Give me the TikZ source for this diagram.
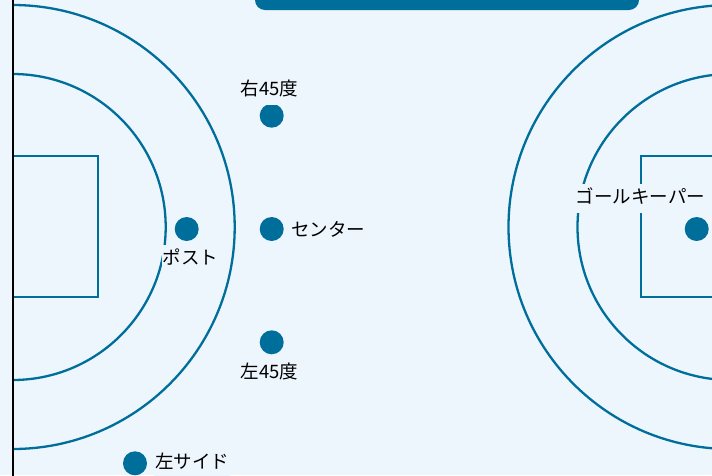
\documentclass[tikz,border=0pt]{standalone}
\usepackage{fontspec}
\newfontfamily\jp{Noto Sans CJK JP}
\definecolor{bgc}{RGB}{238,246,253}
\definecolor{court}{RGB}{0,110,155}
\tikzset{
  courtline/.style={draw=court, line width=2.3pt},
  boxline/.style={draw=court, line width=2pt},
  player/.style={circle, fill=court, minimum size=24pt, inner sep=0pt},
  lab/.style={font=\jp\fontsize{18.5pt}{21pt}\selectfont, text=black, fill=bgc, inner xsep=1pt, inner ysep=6pt, text height=13.5pt, text depth=4pt}
}
\begin{document}
\begin{tikzpicture}[x=1pt,y=-1pt]
\useasboundingbox (0,0) rectangle (712,475);
\clip (0,0) rectangle (712,475);
\fill[bgc] (0,0) rectangle (712,475);
% top bar
\fill[court, rounded corners=10pt] (255,-40) rectangle (639,10);
% left court
\draw[courtline] (12.7,227) ++(90:222) arc[start angle=90, end angle=-90, radius=222];
\draw[courtline] (12.7,227) ++(90:153) arc[start angle=90, end angle=-90, radius=153];
\draw[boxline] (12.7,156.3) rectangle (98.3,296.7);
\draw[black, line width=2pt] (12.7,-5) -- (12.7,480);
% right court
\draw[courtline] (730.5,227) ++(90:222) arc[start angle=90, end angle=270, radius=222];
\draw[courtline] (730.5,227) ++(90:153) arc[start angle=90, end angle=270, radius=153];
\draw[boxline] (641,156.3) rectangle (730.5,296.7);
\draw[black, line width=2pt] (730.5,-5) -- (730.5,480);
% players
\node[player] (r45) at (271.7,115.7) {};
\node[player] (c) at (271.7,229) {};
\node[player] (l45) at (271.7,342.3) {};
\node[player] (p) at (186.7,229) {};
\node[player] (ls) at (135,463.3) {};
\node[player] (gk) at (696.7,229) {};
% labels
\node[lab] (r45l) at (269.5,90.5) {右45度};
\node[lab, anchor=west] (cl) at (290,231.5) {センター};
\node[lab] (l45l) at (269.5,373.5) {左45度};
\node[lab] (pl) at (190.5,259.5) {ポスト};
\node[lab, anchor=west] (lsl) at (154,463.5) {左サイド};
\node[lab] (gkl) at (640.5,198.5) {ゴールキーパー};
\end{tikzpicture}
\end{document}
